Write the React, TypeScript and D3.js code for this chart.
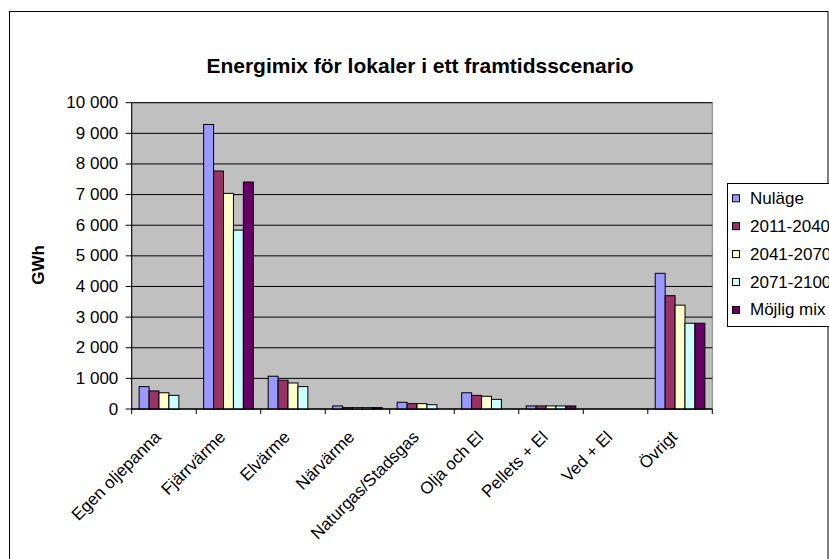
import React from "react";
import * as d3 from "d3";

const categories = [
  "Egen oljepanna",
  "Fjärrvärme",
  "Elvärme",
  "Närvärme",
  "Naturgas/Stadsgas",
  "Olja och El",
  "Pellets + El",
  "Ved + El",
  "Övrigt",
];
const seriesNames = ["Nuläge", "2011-2040", "2041-2070", "2071-2100", "Möjlig mix"];
const nulage = [730, 9290, 1070, 100, 220, 530, 100, 0, 4430];
const s2011 = [590, 7770, 940, 45, 175, 445, 100, 0, 3700];
const s2041 = [530, 7040, 850, 45, 175, 415, 100, 0, 3390];
const s2071 = [445, 5840, 730, 45, 140, 315, 100, 0, 2800];
const mojligMix = [0, 7410, 0, 45, 0, 0, 100, 0, 2800];
const yTicks = [0, 1000, 2000, 3000, 4000, 5000, 6000, 7000, 8000, 9000, 10000];
const seriesColors = ["#9999FF", "#993366", "#FFFFCC", "#CCFFFF", "#660066"];

const title = "Energimix för lokaler i ett framtidsscenario";
const yTitle = "GWh";

const W = 829;
const H = 559;
const FONT = "'Liberation Sans', Arial, sans-serif";

export default function App() {
  const series = [nulage, s2011, s2041, s2071, mojligMix];
  const plotL = 131.7;
  const plotR = 712.3;
  const plotT = 102.7;
  const plotB = 409;

  const x = d3.scaleBand<string>().domain(categories).range([plotL, plotR]).paddingInner(0).paddingOuter(0);
  const y = d3.scaleLinear().domain([0, 10000]).range([plotB, plotT]);
  const band = x.bandwidth();
  const barW = band / 6.5;
  const groupOff = barW * 0.75;
  const fmt = (v: number) => d3.format(",")(v).replace(/,/g, " ");

  return (
    <svg
      width={W}
      height={H}
      style={{ position: "absolute", left: 0, top: 0, display: "block" }}
      fontFamily={FONT}
    >
      <rect x={0} y={0} width={W} height={H} fill="#fff" />
      {/* chart border */}
      <rect x={9.5} y={11.5} width={818.5} height={600} fill="#fff" stroke="#000" strokeWidth={1} />
      {/* title */}
      <text x={420} y={65} textAnchor="middle" dominantBaseline="central" fontSize={21} fontWeight="bold">
        {title}
      </text>
      {/* plot area */}
      <rect x={plotL} y={plotT} width={plotR - plotL} height={plotB - plotT} fill="#C0C0C0" stroke="#808080" strokeWidth={1} />
      {/* gridlines */}
      {yTicks.map((t) => (
        <line key={"g" + t} x1={plotL} x2={plotR} y1={y(t)} y2={y(t)} stroke="#000" strokeWidth={1} />
      ))}
      {/* bars */}
      {series.map((vals, si) =>
        vals.map((v, ci) =>
          v > 0 ? (
            <rect
              key={`b${si}-${ci}`}
              x={(x(categories[ci]) as number) + groupOff + si * barW}
              y={y(v)}
              width={barW}
              height={plotB - y(v)}
              fill={seriesColors[si]}
              stroke="#000"
              strokeWidth={1}
            />
          ) : null
        )
      )}
      {/* y axis */}
      <line x1={plotL} x2={plotL} y1={plotT} y2={plotB} stroke="#000" strokeWidth={1} />
      {yTicks.map((t) => (
        <g key={"yt" + t}>
          <line x1={plotL - 6} x2={plotL} y1={y(t)} y2={y(t)} stroke="#000" strokeWidth={1} />
          <text x={118.3} y={y(t)} textAnchor="end" dominantBaseline="central" fontSize={17}>
            {fmt(t)}
          </text>
        </g>
      ))}
      {/* x axis */}
      <line x1={plotL} x2={plotR} y1={plotB} y2={plotB} stroke="#000" strokeWidth={1} />
      {d3.range(categories.length + 1).map((i) => (
        <line key={"xt" + i} x1={plotL + i * band} x2={plotL + i * band} y1={plotB} y2={plotB + 5} stroke="#000" strokeWidth={1} />
      ))}
      {categories.map((c) => {
        const cx = (x(c) as number) + band / 2 - 2;
        const cy = 438;
        return (
          <text
            key={"xl" + c}
            x={cx}
            y={cy}
            textAnchor="end"
            fontSize={17}
            transform={`rotate(-45 ${cx} ${cy})`}
          >
            {c}
          </text>
        );
      })}
      {/* y title */}
      <text
        x={38}
        y={265}
        textAnchor="middle"
        dominantBaseline="central"
        fontSize={17}
        fontWeight="bold"
        transform="rotate(-90 38 265)"
      >
        {yTitle}
      </text>
      {/* legend */}
      <rect x={727.5} y={183.5} width={120} height={143} fill="#fff" stroke="#000" strokeWidth={1} />
      {seriesNames.map((n, i) => {
        const cy = 198.3 + i * 27.9;
        return (
          <g key={"lg" + n}>
            <rect x={732.5} y={cy - 3.5} width={7} height={7} fill={seriesColors[i]} stroke="#000" strokeWidth={1} />
            <text x={750} y={cy} dominantBaseline="central" fontSize={17}>
              {n}
            </text>
          </g>
        );
      })}
    </svg>
  );
}
